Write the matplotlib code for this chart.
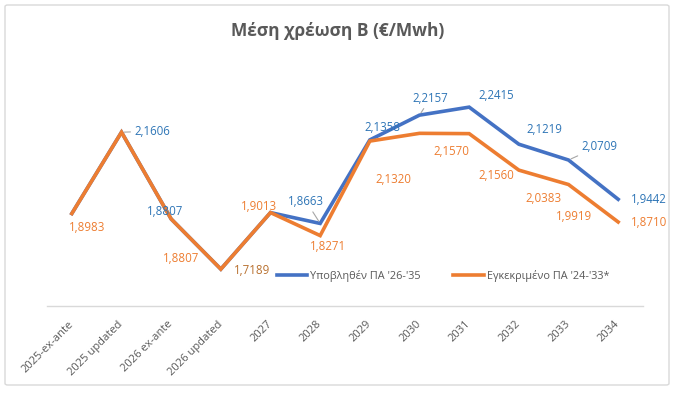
import matplotlib
matplotlib.use("Agg")
import matplotlib.pyplot as plt
from matplotlib.patches import FancyBboxPatch

plt.rcParams['font.family'] = ['Open Sans', 'DejaVu Sans']

categories = ["2025-ex-ante", "2025 updated", "2026 ex-ante", "2026 updated",
              "2027", "2028", "2029", "2030", "2031", "2032", "2033", "2034"]
submitted = [1.8983, 2.1606, 1.8807, 1.7189, 1.9013, 1.8663, 2.1358, 2.2157,
             2.2415, 2.1219, 2.0709, 1.9442]
approved = [1.8983, 2.1606, 1.8807, 1.7189, 1.9013, 1.8271, 2.1320, 2.1570,
            2.1560, 2.0383, 1.9919, 1.8710]
series_names = ["Υποβληθέν ΠΑ '26-'35", "Εγκεκριμένο ΠΑ '24-'33*"]
title = "Μέση χρέωση Β (€/Mwh)"

BLUE = '#4472C4'
ORANGE = '#ED7D31'
BLUE_TXT = '#2E75B6'
ORANGE_TXT = '#ED7D31'
MIX_TXT = '#B8702F'
GREY = '#595959'

W, H = 677, 395
fig = plt.figure(figsize=(W / 100, H / 100), dpi=100)
fig.patch.set_facecolor('white')

# chart frame
frame = FancyBboxPatch((5 / W, 1 - 385 / H), (669 - 5) / W, (385 - 5) / H,
                       boxstyle="round,pad=0,rounding_size=0.004",
                       transform=fig.transFigure, facecolor='white',
                       edgecolor='#D9D9D9', linewidth=1.0, zorder=-10)
fig.patches.append(frame)

ax = fig.add_axes([47 / W, (H - 306) / H, (643 - 47) / W, (306 - 89) / H])
ax.set_zorder(5)
ax.set_facecolor('none')
x = list(range(len(categories)))
ax.plot(x, submitted, color=BLUE, lw=2.6, solid_joinstyle='miter', label=series_names[0], zorder=2)
ax.plot(x, approved, color=ORANGE, lw=2.6, solid_joinstyle='miter', label=series_names[1], zorder=3)

ax.set_xlim(-0.5, len(categories) - 0.5)
ax.set_ylim(1.6, 2.3)
ax.set_yticks([])
for s in ['top', 'right', 'left']:
    ax.spines[s].set_visible(False)
ax.spines['bottom'].set_color('#D9D9D9')
ax.spines['bottom'].set_linewidth(1.0)
ax.set_xticks(x)
ax.set_xticklabels(categories, rotation=45, ha='right', va='center',
                   rotation_mode='anchor', fontsize=8, color=GREY)
ax.tick_params(axis='x', length=0, pad=12)


def fmt(v):
    return f"{v:.4f}".replace('.', ',')


# (series, index, dx px, dy px downwards, color, leader)
labels = [
    ('o', 0, 15, 14, ORANGE_TXT, False),
    ('b', 1, 31, -1, BLUE_TXT, True),
    ('b', 2, -6, -7, BLUE_TXT, False),
    ('o', 2, 10, 40, ORANGE_TXT, False),
    ('o', 3, 31, 1, MIX_TXT, False),
    ('o', 4, -11, -6, ORANGE_TXT, False),
    ('b', 5, -14, -22, BLUE_TXT, True),
    ('o', 5, 8, 11, ORANGE_TXT, False),
    ('b', 6, 13, -12, BLUE_TXT, False),
    ('o', 6, 24, 38, ORANGE_TXT, False),
    ('b', 7, 11, -17, BLUE_TXT, True),
    ('b', 8, 27, -12, BLUE_TXT, False),
    ('o', 7, 32, 18, ORANGE_TXT, False),
    ('o', 8, 27, 42, ORANGE_TXT, False),
    ('b', 9, 26, -15, BLUE_TXT, False),
    ('o', 9, 25, 28, ORANGE_TXT, False),
    ('b', 10, 31, -14, BLUE_TXT, True),
    ('o', 10, 6, 32, ORANGE_TXT, False),
    ('b', 11, 31, 0, BLUE_TXT, False),
    ('o', 11, 31, 1, ORANGE_TXT, False),
]
for ser, i, dx, dy, col, leader in labels:
    vals = submitted if ser == 'b' else approved
    kw = {}
    if leader:
        kw['arrowprops'] = dict(arrowstyle='-', color='#A6A6A6', lw=0.8,
                                shrinkA=1, shrinkB=2)
    ax.annotate(fmt(vals[i]), xy=(i, vals[i]), xytext=(dx, -dy),
                textcoords='offset pixels', ha='center', va='center',
                fontsize=8.3, color=col, zorder=5, **kw)

leg = ax.legend(loc='center', bbox_to_anchor=(443 / W, (H - 276) / H),
                bbox_transform=fig.transFigure, ncol=2, frameon=False,
                fontsize=7.8, handlelength=2.8, handletextpad=0.3,
                columnspacing=3.0, borderpad=0)
for t in leg.get_texts():
    t.set_color(GREY)
for h in leg.get_lines():
    h.set_linewidth(2.6)

fig.text(338 / W, 1 - 31 / H, title, ha='center', va='center',
         fontsize=12.5, fontweight='bold', color=GREY)

fig.savefig('out.png', dpi=100)
